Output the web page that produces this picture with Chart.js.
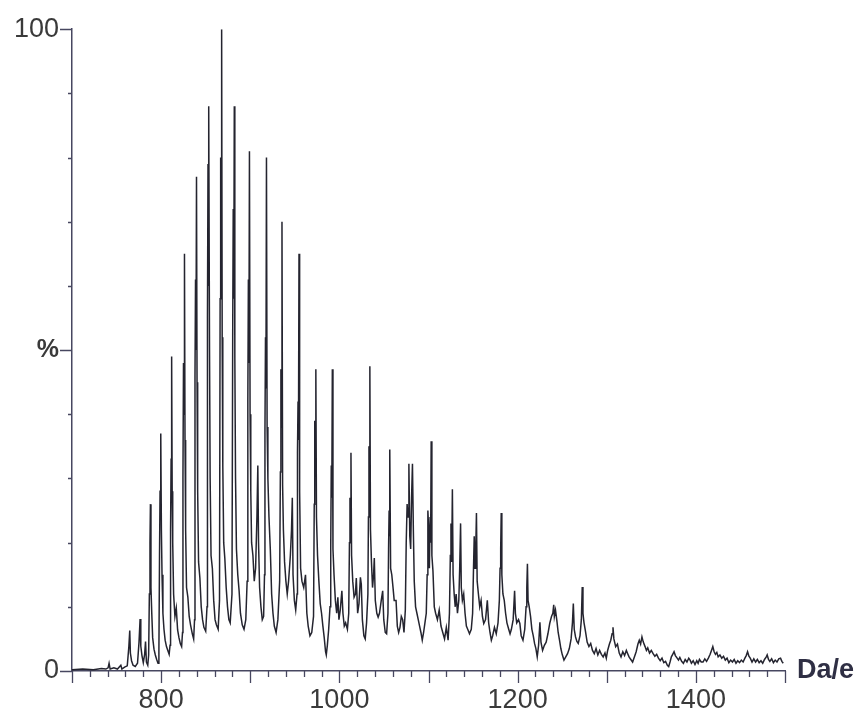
<!DOCTYPE html>
<html>
<head>
<meta charset="utf-8">
<script src="https://cdn.jsdelivr.net/npm/chart.js@4/dist/chart.umd.min.js"></script>
<style>
  body { margin: 0; background: #fff; }
  #wrap { width: 864px; height: 716px; }
</style>
</head>
<body>
<div id="wrap"><canvas id="spectrum" width="864" height="716"></canvas></div>
<script>
/******************* DATA ******************************************** */
// m/z in Da/e, intensity in % of the base peak
var riseMz = [700, 712, 724, 733, 738, 740.5, 741.6, 742.8, 747, 751, 754.8, 756, 759, 762,
    763.8, 764.8, 765.5, 766.8, 768.5, 771, 773.5, 775.2, 776.4, 777.2, 778.5, 780, 781.5, 782.5, 783.5, 785, 786,
    786.8, 787.5, 788, 788.6, 789.5, 790.5, 792, 793.5, 795, 796.5, 797.5,
    798.2, 798.8, 799.6, 800.3, 801, 802, 803.2, 804.5, 806, 807.5, 809, 810,
    810.6, 811.2, 811.8, 812.4, 813, 814, 815.5, 817, 818.5, 820, 821.5, 823, 824,
    824.5, 825.1, 825.7, 826.2, 826.8, 827.5, 828.5, 830, 831.5, 833, 835, 836.5, 837.5,
    838, 838.6, 839.1, 839.7, 840.3, 841, 842, 843.5, 845, 846.5, 848, 850, 851.5,
    852, 852.6, 853.1, 853.7, 854.3, 855, 856, 857.5, 859, 860.5, 862, 864, 865.5];
var risePct = [0.2, 0.3, 0.2, 0.4, 0.3, 0.5, 1.2, 0.3, 0.5, 0.3, 0.9, 0.3, 0.6, 0.8,
    3.8, 6.3, 2.8, 1.6, 0.9, 0.7, 1.2, 4.5, 8.1, 3.9, 2.4, 1.3, 2.6, 4.6, 1.4, 0.9, 2.5,
    12, 20, 26, 13, 9, 5.2, 3.4, 2.5, 1.8, 1.2, 3,
    18, 28, 37, 22, 15, 9, 6.5, 4.8, 3.8, 3.2, 2.6, 4,
    22, 33, 49, 28, 20, 12, 8.5, 9.8, 6.4, 5.2, 4.3, 3.8, 6,
    30, 48, 40, 65, 36, 22, 13, 11.5, 8.5, 7.2, 5.8, 5, 8,
    46, 61, 50, 77, 45, 28, 17, 14.5, 10, 8, 6.8, 6.2, 10,
    55, 79, 60, 88, 50, 30, 18, 16, 11, 8, 7.2, 6.5, 11];

var topMz = [866.2, 866.8, 867.3, 867.9, 868.5, 869.2, 870.2, 871.5, 873, 874.5, 876, 877.5, 879.5,
    880.3, 880.9, 881.5, 882.1, 882.7, 883.5, 884.5, 886, 887.5, 889, 891, 893, 895, 896.5,
    897.3, 897.9, 898.5, 899.1, 899.8, 900.6, 901.5, 903, 904.5, 906, 907.5, 908.5, 909.3, 910.5, 912, 913.5, 915, 916,
    916.5, 917.1, 917.6, 918.2, 918.9, 919.8, 921, 922.5, 924, 925.5, 927, 929, 931, 933,
    933.8, 934.4, 935, 935.6, 936.3, 937.2, 938.5, 940, 941.5, 943, 945, 946.3, 947.2, 948, 949.5, 951, 952.5,
    953, 953.6, 954.1, 954.7, 955.4, 956.5, 958, 960, 962, 963.5, 965, 967, 969, 971];
var topPct = [58, 80, 64, 100, 52, 32, 20, 17.5, 13, 10, 8, 7.5, 12,
    52, 72, 58, 88, 49, 30, 19, 15, 12.5, 9, 7.2, 6.5, 8, 14,
    42, 61, 48, 81, 40, 28, 20, 18, 14, 16, 24, 32, 20, 13, 10, 8, 8.5, 15,
    37, 52, 44, 80, 38, 30, 24, 19, 12, 9, 7, 6, 8, 14,
    31, 47, 38, 70, 29, 22, 17, 14, 12, 14, 18, 22, 27, 15, 11, 9.5, 12,
    34, 42, 36, 65, 28, 16, 14, 13, 15, 9, 7, 5.5, 6, 8.5];

var midMz = [971.8, 972.4, 973, 973.6, 974.3, 975.5, 977, 978.5, 980, 981.5, 983, 984.5, 985.3, 986.5, 988, 989.5,
    990.3, 990.9, 991.5, 992.1, 992.8, 994, 995.5, 997, 998.3, 999.5, 1001, 1002.8, 1004, 1005.5, 1007, 1009, 1010.5,
    1011.3, 1011.9, 1012.5, 1013, 1013.7, 1015, 1016.5, 1018, 1019, 1020.5, 1022, 1023.6, 1024.6, 1025.8, 1027.5, 1029, 1030.5, 1032,
    1032.6, 1033.2, 1033.7, 1034.2, 1034.9, 1036, 1037.2, 1038.4, 1039.2, 1040.3, 1042, 1043.5, 1045, 1047, 1048.6, 1049.8, 1051.5, 1053, 1054.5,
    1055.2, 1055.8, 1056.3, 1056.8, 1057.5, 1058.8, 1060.2, 1061.5, 1063.6, 1065, 1066.5, 1068, 1069.5, 1071, 1072.5, 1074,
    1075, 1076, 1077, 1078, 1079, 1080, 1081, 1082, 1083, 1084, 1085.5, 1087, 1088.5, 1090, 1091.5, 1093, 1094.5, 1096, 1097.5, 1098.5];
var midPct = [26, 39, 31, 47, 24, 18, 14, 10.5, 9, 7, 5.2, 3, 2.5, 4, 6.5, 10,
    19, 32, 27, 47, 19, 15, 11, 9, 11.5, 8, 9.5, 12.5, 9, 7, 7.5, 6.5, 9,
    20, 27, 22, 34, 18, 14, 11.5, 12, 14.5, 9, 10.5, 14.6, 13.5, 8, 5.5, 5, 7.5, 12,
    24, 35, 28, 47.5, 22, 17, 13, 15, 17.6, 11, 9, 8.4, 9, 11, 12.5, 8, 6, 5.8, 9,
    19, 25, 21, 34.5, 16, 15, 13, 11, 11, 7, 6, 6.8, 8.5, 8, 6, 9.5,
    20, 26, 24, 32.3, 21, 19, 27, 32.3, 22, 14, 10, 9, 8, 7, 6, 4.8, 6, 7.5, 9, 15];

var tailMz = [1099.3, 1100.2, 1101, 1101.8, 1102.4, 1103, 1103.8, 1105, 1106.5, 1108, 1110, 1112, 1114, 1116, 1118, 1120, 1122, 1123.5,
    1124.5, 1125.2, 1126, 1126.8, 1127.6, 1128.8, 1130, 1131, 1132.5, 1134, 1135, 1136, 1136.8, 1138, 1139.5, 1141, 1142.5, 1144, 1146, 1148, 1149.5,
    1150.5, 1151.3, 1152.2, 1153, 1153.8, 1154.6, 1156, 1157.5, 1159, 1160.5, 1162, 1164, 1166, 1167.5, 1169, 1170.5, 1172, 1174, 1176, 1178, 1179.5,
    1180.3, 1181, 1181.6, 1182.3, 1183.5, 1185, 1186.5, 1188, 1190, 1191.5, 1193, 1195, 1196.6, 1197.5, 1199, 1201, 1202.5, 1204, 1206, 1208, 1209.5,
    1210.3, 1211, 1211.7, 1213, 1214.5, 1216, 1217.5, 1219, 1220.5, 1222, 1223.5, 1225, 1226.2, 1228, 1230, 1232, 1234, 1236, 1238, 1239.5];
var tailPct = [25, 22, 16, 24, 20, 35.8, 18, 15.6, 10, 9, 8, 9.5, 7, 6, 5, 6.8, 4.8, 9,
    18, 23, 17, 28.3, 15, 12, 10, 12, 9, 11, 16, 23, 13, 11, 12, 9, 7, 6.5, 5.8, 6.5, 9,
    16, 21, 16, 19, 24.6, 14, 12, 10, 11, 8.5, 7.4, 8, 11, 7.5, 6, 4.8, 5.5, 6.8, 5.8, 7.5, 11,
    16, 19, 24.6, 15, 12, 11, 9, 7.5, 6.5, 5.8, 6.5, 8, 12.5, 9, 7.5, 8, 7.4, 5.5, 4.8, 6.5, 10,
    13, 16.7, 11, 10, 8.5, 6.5, 5.5, 4.3, 3.5, 2.2, 4, 7.6, 4.5, 3.2, 4, 4.5, 5.8, 7.4, 8.5, 9];

var endMz = [1240.5, 1241.2, 1242.5, 1244, 1245.5, 1247, 1248.5, 1250, 1252, 1254, 1256, 1258, 1260, 1261.5, 1262.5, 1263.5, 1265, 1266.5, 1268, 1270,
    1271.5, 1272.5, 1273.3, 1274.5, 1276, 1278, 1280, 1282, 1284, 1286, 1288, 1290, 1292, 1294, 1296, 1298, 1299.5, 1301, 1303, 1304.5,
    1306, 1307, 1308, 1310, 1312, 1314, 1316, 1318, 1320, 1322, 1323.5, 1325, 1327, 1329, 1331, 1333, 1335, 1336.5, 1338, 1339.5,
    1341, 1343, 1344.5, 1346, 1348, 1350, 1352, 1354, 1356, 1358, 1360, 1362, 1364, 1366, 1368, 1369.5, 1371, 1372.5, 1374, 1375.5,
    1377, 1379, 1380.5, 1382, 1384, 1386, 1388, 1390, 1392, 1393.5, 1395, 1397, 1399, 1401, 1402.5, 1404, 1406, 1408, 1410, 1412,
    1414, 1416, 1417.5, 1419, 1420.5, 1422, 1423.5, 1425, 1427, 1429, 1431, 1433, 1435, 1437, 1439, 1441, 1443, 1445, 1447, 1449,
    1451, 1453, 1455, 1456.5, 1458, 1459.5, 1461, 1463, 1465, 1467, 1469, 1471, 1473, 1475, 1477, 1479, 1480, 1481.5, 1483, 1485,
    1487, 1489, 1491, 1493, 1495, 1496.5, 1498];
var endPct = [10.3, 8.5, 9.5, 7.9, 6, 4.8, 3.5, 2.6, 1.7, 2.2, 2.7, 3.5, 5, 7.5, 10.5, 6.5, 5.3, 4.6, 4.3, 5.5,
    8, 13.1, 9, 7.5, 6.3, 4.5, 3.8, 4.3, 3.2, 2.7, 3.5, 2.5, 3.2, 2.6, 2.2, 2.8, 2, 3.2, 4.2, 4.8,
    5.8, 6.8, 5, 3.8, 4.2, 2.8, 2.2, 3, 2.4, 3.2, 2.7, 2.2, 1.8, 1.4, 2.2, 3, 4.2, 4.8, 4.2, 5.3,
    4.5, 3.8, 3.2, 3.6, 2.8, 3.2, 2.7, 2.3, 2.6, 2, 1.6, 2, 1.3, 1.5, 0.9, 0.7, 1.4, 2.2, 2.6, 3,
    2.4, 2, 1.7, 2.1, 1.5, 1.2, 1.8, 1.4, 2, 1.7, 1.2, 1.6, 1, 1.6, 1.2, 1.8, 1.4, 1.4, 1.9, 1.5,
    2, 2.6, 3.2, 3.8, 3, 2.6, 2.9, 2.2, 2.5, 2, 2.3, 1.7, 2, 1.3, 1.7, 1.4, 1.8, 1.2, 1.6, 1.3,
    1.7, 1.4, 2, 2.4, 3, 2.3, 2, 1.4, 1.9, 1.4, 1.8, 1.3, 1.6, 1.2, 1.8, 2.2, 2.5, 1.8, 1.5, 1.9,
    1.3, 1.7, 1.4, 1.9, 2, 1.5, 1.2];

// axis labels
var xLabels = [800, 1000, 1200, 1400];
var yLabels = { 0: "0", 50: "%", 100: "100" };

/******************* BUILD THE TRACE ******************** */
var allMz = riseMz.concat(topMz, midMz, tailMz, endMz);
var allPct = risePct.concat(topPct, midPct, tailPct, endPct);
if (allMz.length !== allPct.length) console.warn("length mismatch", allMz.length, allPct.length);
var points = [];
for (var i = 0; i < Math.min(allMz.length, allPct.length); i++) {
    points.push({ x: allMz[i], y: allPct[i] });
}

var axisColor = "#474760";
var labelFont = "'Liberation Sans', Arial, sans-serif";

// tick marks: long at majors, short at minors
var tickMarks = {
    id: "tickMarks",
    afterDraw: function (chart) {
        var c = chart.ctx;
        var xs = chart.scales.x, ys = chart.scales.y;
        var area = chart.chartArea;
        c.save();
        c.strokeStyle = axisColor;
        c.lineWidth = 1.3;
        c.beginPath();
        xs.ticks.forEach(function (t) {
            var px = Math.round(xs.getPixelForValue(t.value)) + 0.5;
            var len = (t.value % 100 === 0) ? 12 : 6;
            c.moveTo(px, area.bottom);
            c.lineTo(px, area.bottom + len);
        });
        ys.ticks.forEach(function (t) {
            var py = Math.round(ys.getPixelForValue(t.value)) + 0.5;
            var len = (t.value % 50 === 0) ? 12 : 4;
            c.moveTo(area.left, py);
            c.lineTo(area.left - len, py);
        });
        c.stroke();
        // unit on the right end of the x axis
        c.fillStyle = "#2f2f44";
        c.font = "bold 27px " + labelFont;
        c.textBaseline = "middle";
        c.textAlign = "left";
        c.fillText("Da/e", area.right + 12, area.bottom);
        c.restore();
    }
};

var ctx = document.getElementById("spectrum").getContext("2d");
var spectrumChart = new Chart(ctx, {
    type: "line",
    data: {
        datasets: [{
            data: points,
            borderColor: "#24242f",
            borderWidth: 1.5,
            pointRadius: 0,
            tension: 0,
            fill: false
        }]
    },
    options: {
        responsive: false,
        animation: false,
        layout: { padding: { top: 22, right: 79, left: 0, bottom: 0 } },
        plugins: { legend: { display: false }, tooltip: { enabled: false } },
        scales: {
            x: {
                type: "linear",
                min: 700,
                max: 1500,
                afterFit: function (scale) { scale.height = 45; },
                grid: { drawOnChartArea: false, drawTicks: false },
                border: { display: true, color: axisColor, width: 1.5 },
                ticks: {
                    stepSize: 20,
                    autoSkip: false,
                    maxRotation: 0,
                    padding: 13,
                    color: "#3a3a3a",
                    font: { family: labelFont, size: 27 },
                    callback: function (v) { return xLabels.indexOf(v) >= 0 ? String(v) : ""; }
                }
            },
            y: {
                min: 0,
                max: 100,
                afterFit: function (scale) { scale.width = 72; },
                grid: { drawOnChartArea: false, drawTicks: false },
                border: { display: true, color: axisColor, width: 1.5 },
                ticks: {
                    stepSize: 10,
                    autoSkip: false,
                    padding: 13,
                    color: "#3a3a3a",
                    font: function (c) {
                        if (c.tick && c.tick.value === 50) return { family: labelFont, size: 25, weight: "bold" };
                        return { family: labelFont, size: 27 };
                    },
                    callback: function (v) { return yLabels[v] !== undefined ? yLabels[v] : ""; }
                }
            }
        }
    },
    plugins: [tickMarks]
});
</script>
</body>
</html>
